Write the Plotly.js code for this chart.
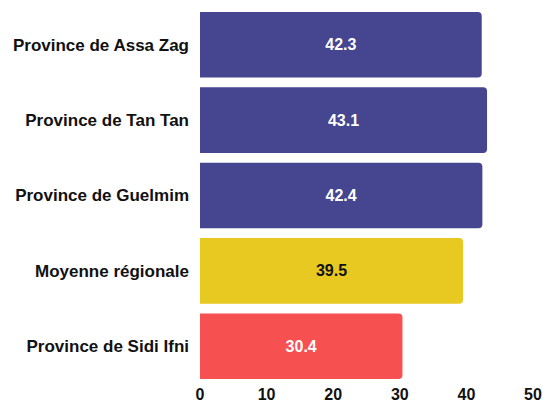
<!DOCTYPE html>
<html><head><meta charset="utf-8">
<script src="https://cdn.plot.ly/plotly-3.0.1.min.js"></script>
<style>html,body{margin:0;padding:0;background:#fff}</style>
</head><body><div id="chart" style="width:545px;height:403px"></div>
<script>
const categories = ["Province de Assa Zag","Province de Tan Tan","Province de Guelmim","Moyenne régionale","Province de Sidi Ifni"];
const values = [42.3, 43.1, 42.4, 39.5, 30.4];
const colors = ["#454590","#454590","#454590","#E8C922","#F75050"];
const textColors = ["#ffffff","#ffffff","#ffffff","#111111","#ffffff"];
const xTicks = [0,10,20,30,40,50];

Plotly.newPlot("chart", [{
  type: "bar", orientation: "h",
  y: categories, x: values,
  marker: {color: colors, cornerradius: 4, line: {width: 0}},
  text: values.map(v => v.toFixed(1)), textposition: "inside", insidetextanchor: "middle",
  textfont: {family: "Liberation Sans, Arial, sans-serif", size: 16, color: textColors, weight: "bold"},
  hoverinfo: "none"
}], {
  width: 545, height: 403,
  margin: {l: 200, r: 12, t: 7, b: 19},
  bargap: 0.13,
  paper_bgcolor: "#fff", plot_bgcolor: "#fff",
  showlegend: false,
  font: {family: "Liberation Sans, Arial, sans-serif", color: "#111"},
  xaxis: {range: [0, 50], tickvals: xTicks, showgrid: false, zeroline: false, showline: false,
    tickfont: {size: 16, weight: "bold", color: "#111"}, ticklabelstandoff: -1},
  yaxis: {autorange: "reversed", showgrid: false, zeroline: false, showline: false,
    tickfont: {size: 17, weight: "bold", color: "#111"}, ticklabelstandoff: 10}
}, {displayModeBar: false, staticPlot: true});
</script></body></html>
